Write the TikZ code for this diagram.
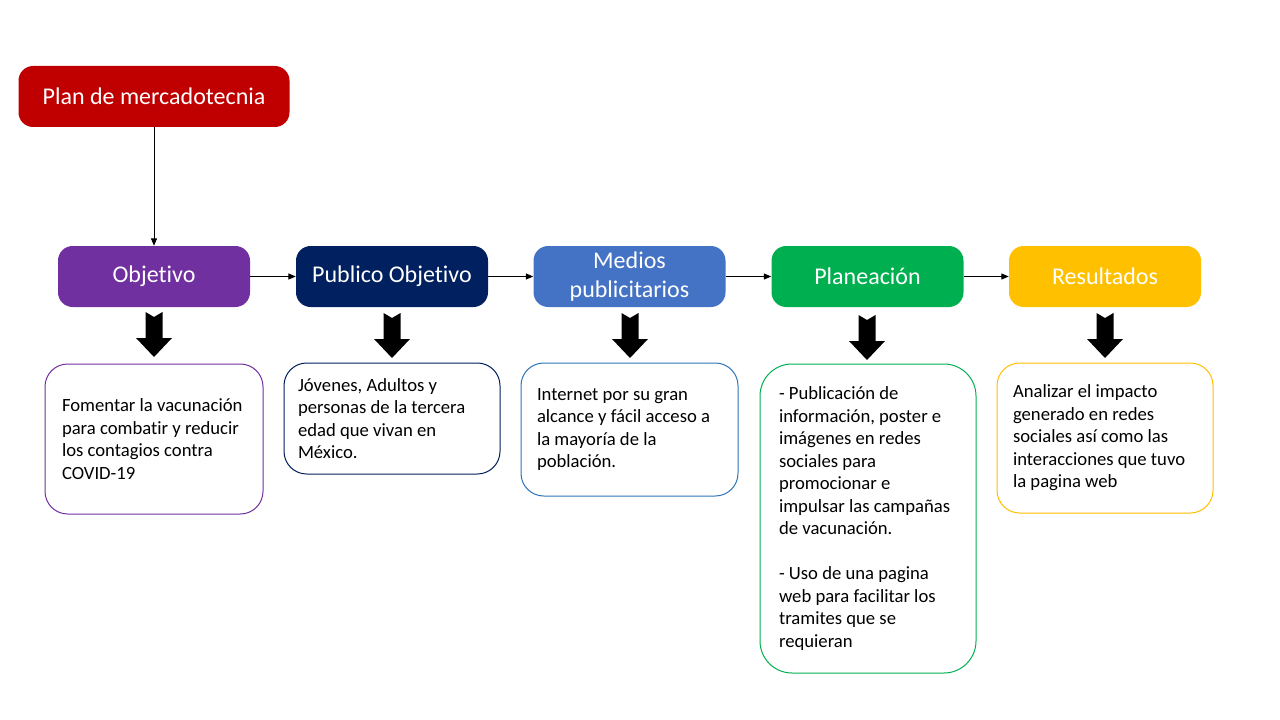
\documentclass[tikz,border=0pt]{standalone}
\usepackage{fontspec}
\setmainfont{Carlito}[RawFeature={-liga}]
\usetikzlibrary{arrows.meta}
\definecolor{cred}{HTML}{C00000}
\definecolor{cpurple}{HTML}{7030A0}
\definecolor{cnavy}{HTML}{002060}
\definecolor{cblue}{HTML}{4472C4}
\definecolor{cblueline}{HTML}{2E75B6}
\definecolor{cgreen}{HTML}{00B050}
\definecolor{cgold}{HTML}{FFC000}
\tikzset{
  hdr/.style={rounded corners=11pt, minimum width=144pt, minimum height=45.75pt,
    text=white, font=\fontsize{18}{21.6}\selectfont, align=center, inner sep=2pt},
  txtbox/.style={draw, line width=0.75pt, fill=white, rounded corners=17pt, align=flush left,
    font=\fontsize{14}{16.9}\selectfont, inner ysep=0pt},
  conn/.style={draw=black, line width=0.75pt, -{Triangle[length=5.5pt,width=4.5pt]}},
  pics/blockarr/.style={code={
    \fill[black] (-8.5,0) -- (0,5) -- (8.5,0) -- (8.5,26) -- (18,26) -- (0,45)
      -- (-18,26) -- (-8.5,26) -- cycle;}}
}
\begin{document}
\begin{tikzpicture}[x=0.75pt,y=-0.75pt]
\useasboundingbox (0,0) rectangle (1280,720);
\fill[white] (0,0) rectangle (1280,720);

% headers
\node[hdr, fill=cred, minimum width=203.25pt] (plan) at (154,96.5) {Plan de mercadotecnia};
\node[hdr, fill=cpurple] (obj) at (154,276.5) {Objetivo};
\node[hdr, fill=cnavy] (pub) at (392,276.5) {Publico Objetivo};
\node[hdr, fill=cblue] (med) at (629.5,276.5) {Medios\\publicitarios};
\node[hdr, fill=cgreen] (pla) at (867.5,276.5) {Planeación};
\node[hdr, fill=cgold] (res) at (1105,276.5) {Resultados};

% connectors
\draw[conn] (plan.south) -- (obj.north);
\draw[conn] (obj.east) -- (pub.west);
\draw[conn] (pub.east) -- (med.west);
\draw[conn] (med.east) -- (pla.west);
\draw[conn] (pla.east) -- (res.west);

% block arrows
\pic at (154,312) {blockarr};
\pic at (392,313) {blockarr};
\pic at (630,313) {blockarr};
\pic at (867,315) {blockarr};
\pic at (1105,313) {blockarr};

% text boxes
\node[txtbox, draw=cpurple, minimum height=112.5pt, inner xsep=12.75pt, text width=138pt] (b1) at (154,439)
  {Fomentar la vacunación\\para combatir y reducir\\los contagios contra\\COVID-19};
\node[txtbox, draw=cnavy, minimum height=83.25pt, inner xsep=10.5pt, text width=141pt] (b2) at (392,418.5)
  {Jóvenes, Adultos y\\personas de la tercera\\edad que vivan en\\México.};
\node[txtbox, draw=cblueline, minimum height=99.75pt, inner xsep=12pt, text width=138.75pt] (b3) at (629.5,429.5)
  {Internet por su gran\\alcance y fácil acceso a\\la mayoría de la\\población.};
\node[txtbox, draw=cgreen, rounded corners=24pt, minimum height=231.75pt, inner xsep=14.25pt, text width=133.5pt] (b4) at (868,518.5)
  {- Publicación de\\información, poster e\\imágenes en redes\\sociales para\\promocionar e\\impulsar las campañas\\de vacunación.\\[16.9pt]- Uso de una pagina\\web para facilitar los\\tramites que se\\requieran};
\node[txtbox, draw=cgold, minimum height=112.5pt, inner xsep=12pt, text width=138pt] (b5) at (1105,438)
  {Analizar el impacto\\generado en redes\\sociales así como las\\interacciones que tuvo\\la pagina web};
\end{tikzpicture}
\end{document}
